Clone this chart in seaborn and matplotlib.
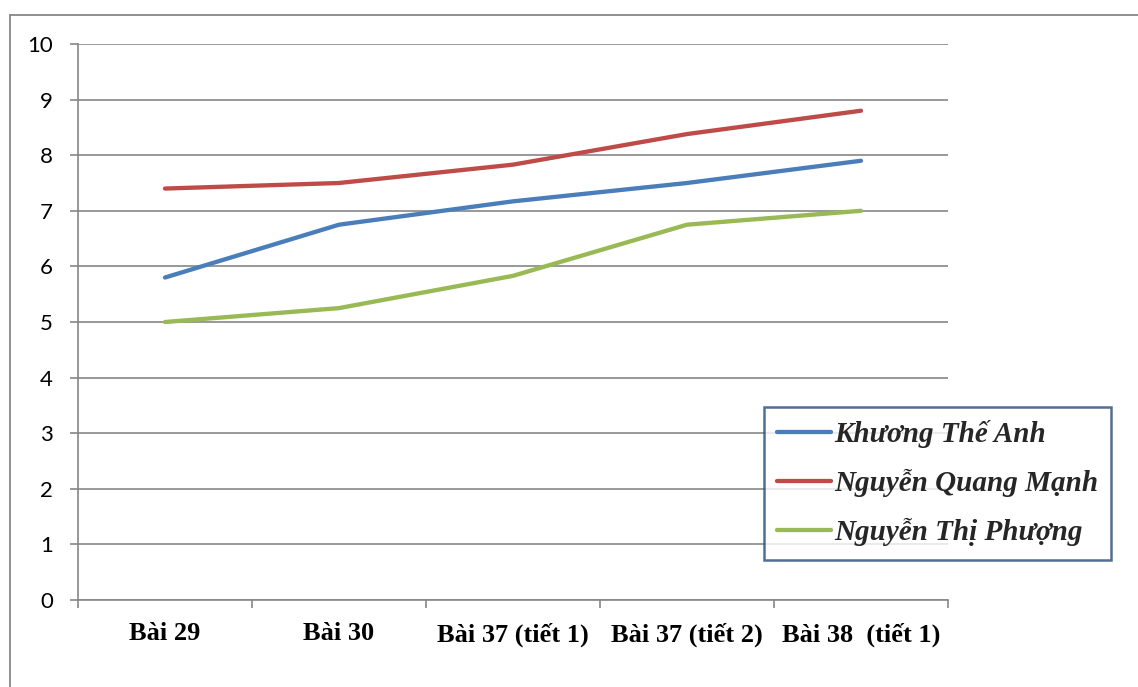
import matplotlib
matplotlib.use("Agg")
import matplotlib.pyplot as plt
from matplotlib.lines import Line2D
import seaborn as sns
import pandas as pd

# Lessons (x categories) and scores per student
lessons = ["Bài 29", "Bài 30", "Bài 37 (tiết 1)", "Bài 37 (tiết 2)", "Bài 38  (tiết 1)"]
khuong_the_anh = [5.8, 6.75, 7.17, 7.5, 7.9]
nguyen_quang_manh = [7.4, 7.5, 7.83, 8.38, 8.8]
nguyen_thi_phuong = [5.0, 5.25, 5.83, 6.75, 7.0]
students = ["Khương Thế Anh", "Nguyễn Quang Mạnh", "Nguyễn Thị Phượng"]
y_ticks = list(range(0, 11))

scores = [khuong_the_anh, nguyen_quang_manh, nguyen_thi_phuong]
rows = []
for name, vals in zip(students, scores):
    for i, (lesson, v) in enumerate(zip(lessons, vals)):
        rows.append({"pos": i, "lesson": lesson, "student": name, "score": v})
df = pd.DataFrame(rows)

sns.set_theme(style="white")
plt.rcParams["font.family"] = ["Lato", "DejaVu Sans"]

W, H, DPI = 1138, 687, 100
fig = plt.figure(figsize=(W / DPI, H / DPI), dpi=DPI)
fig.patch.set_facecolor("white")
ax = fig.add_axes([78 / W, 1 - 600 / H, (948 - 78) / W, (600 - 44) / H])

palette = {students[0]: "#4A7EBB", students[1]: "#BE4B48", students[2]: "#98B954"}
sns.lineplot(data=df, x="pos", y="score", hue="student", palette=palette,
             linewidth=3.1, ax=ax, legend=False, sort=False)
for ln in ax.get_lines():
    ln.set_solid_capstyle("round")
    ln.set_solid_joinstyle("round")

grid_c = "#868686"
ax.set_xlim(-0.5, len(lessons) - 0.5)
ax.set_ylim(0, 10)
ax.set_yticks(y_ticks)
ax.set_yticklabels([str(t) for t in y_ticks], fontsize=16, color="black")
ax.yaxis.grid(True, color=grid_c, linewidth=1.2)
ax.xaxis.grid(False)
ax.set_axisbelow(True)

ax.set_xticks(range(len(lessons)))
ax.set_xticklabels(lessons, fontsize=19, fontweight="bold",
                   family=["Liberation Serif"], color="black")
ax.set_xticks([i - 0.5 for i in range(len(lessons) + 1)], minor=True)
ax.tick_params(axis="x", which="major", length=0, pad=16)
ax.tick_params(axis="x", which="minor", length=6, width=1.2, color=grid_c, direction="out", bottom=True)
ax.tick_params(axis="y", which="major", length=6, width=1.2, color=grid_c, direction="out", left=True, pad=12)
ax.set_xlabel("")
ax.set_ylabel("")

for side in ["top", "right"]:
    ax.spines[side].set_visible(False)
for side in ["left", "bottom"]:
    ax.spines[side].set_color(grid_c)
    ax.spines[side].set_linewidth(1.2)

# legend in a navy box at the lower right
handles = [Line2D([0], [0], color=palette[s], lw=3.1, solid_capstyle="round") for s in students]
leg = fig.legend(handles, students, loc="upper left",
                 bbox_to_anchor=(764 / W, 1 - 407 / H), bbox_transform=fig.transFigure,
                 frameon=True, fancybox=False, borderaxespad=0, borderpad=0.45,
                 handlelength=1.85, handletextpad=0.1, labelspacing=0.72,
                 prop={"family": ["Liberation Serif"], "weight": "bold", "style": "italic", "size": 21})
leg.get_frame().set_edgecolor("#254A7C")
leg.get_frame().set_linewidth(1.8)
leg.get_frame().set_facecolor("white")

# outer chart frame
fig.add_artist(Line2D([10 / W, 1.0], [1 - 15 / H, 1 - 15 / H], transform=fig.transFigure,
                      color="#878787", lw=1.3))
fig.add_artist(Line2D([10 / W, 10 / W], [0.0, 1 - 15 / H], transform=fig.transFigure,
                      color="#878787", lw=1.3))

fig.savefig("out.png", dpi=DPI)
